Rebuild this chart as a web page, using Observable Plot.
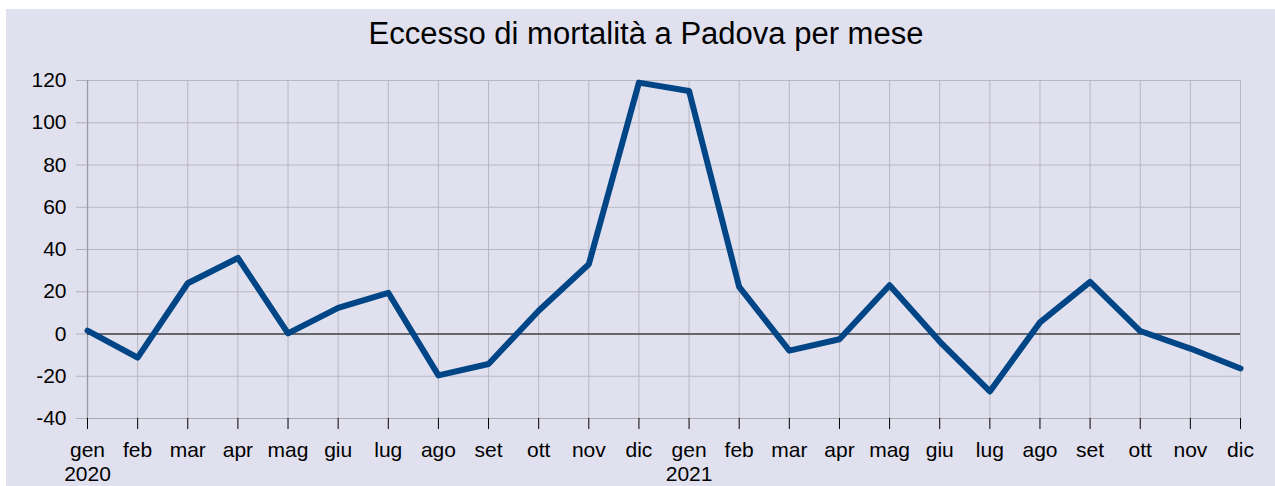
<!DOCTYPE html>
<html>
<head>
<meta charset="utf-8">
<script src="https://cdn.jsdelivr.net/npm/d3@7"></script>
<script src="https://cdn.jsdelivr.net/npm/@observablehq/plot@0.6"></script>
<style>
  html, body { margin: 0; padding: 0; background: #ffffff; width: 1275px; height: 486px; overflow: hidden; }
  #bg { position: absolute; left: 6px; top: 9px; right: 0; bottom: 0; background: #e1e0ef; }
  #title { position: absolute; left: 10px; width: 1272px; top: 14px; height: 40px; line-height: 40px;
           text-align: center; font-family: "Liberation Sans", Arial, sans-serif; font-size: 31px; color: #000; }
  #chart { position: absolute; left: 0; top: 60px; }
</style>
</head>
<body>
<div id="bg"></div>
<div id="title">Eccesso di mortalità a Padova per mese</div>
<div id="chart"></div>
<script>
const months = ["gen","feb","mar","apr","mag","giu","lug","ago","set","ott","nov","dic"];
const years = ["2020","2021"];
const values = [1.6, -11.2, 24, 36, 0.3, 12.4, 19.5, -19.6, -14.2, 11, 33, 119,
                115, 22.3, -7.9, -2.5, 23.1, -3.6, -27.2, 5.5, 24.7, 1.4, -6.9, -16.3];
const yTicks = [-40, -20, 0, 20, 40, 60, 80, 100, 120];

const data = values.map((v, i) => ({i, v}));
const xTicks = d3.range(values.length);

const chart = Plot.plot({
  width: 1275,
  height: 426,
  marginLeft: 87,
  marginRight: 35,
  marginTop: 20,
  marginBottom: 68,
  style: {background: "transparent", fontFamily: "'Liberation Sans', Arial, sans-serif", fontSize: "21px", color: "#000", overflow: "visible"},
  x: {domain: [0, values.length - 1]},
  y: {domain: [-40, 120]},
  marks: [
    Plot.gridX(xTicks, {stroke: "#b8b8c0", strokeOpacity: 1}),
    Plot.gridY(yTicks, {stroke: "#b8b8c0", strokeOpacity: 1}),
    Plot.ruleY([-40], {stroke: "#a8a8b0"}),
    Plot.ruleX([0], {stroke: "#9a9aa0", strokeWidth: 1.3}),
    Plot.ruleY([0], {stroke: "#000", strokeWidth: 1.2}),
    Plot.axisY(yTicks, {tickSize: 11, tickPadding: 10, stroke: "#b0b0b8", label: null, tickFormat: d => String(d)}),
    Plot.axisX(xTicks, {
      tickSize: 11, tickPadding: 11, stroke: "#000", label: null, lineHeight: 1.12,
      tickFormat: i => months[i % 12] + (i % 12 === 0 ? "\n" + years[i / 12] : "")
    }),
    Plot.line(data, {x: "i", y: "v", stroke: "#004586", strokeWidth: 6})
  ]
});
document.getElementById("chart").appendChild(chart);
</script>
</body>
</html>
